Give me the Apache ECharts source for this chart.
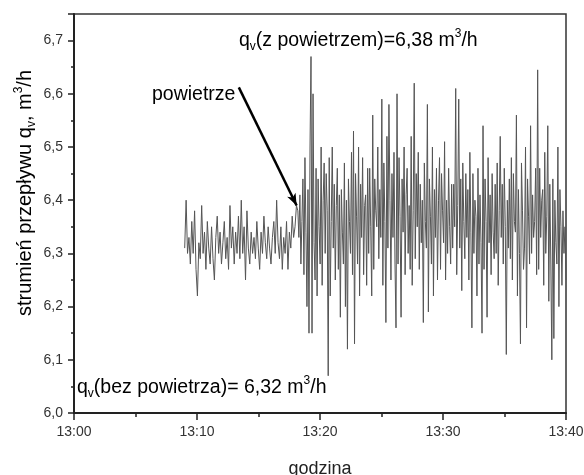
<!DOCTYPE html>
<html>
<head>
<meta charset="utf-8">
<script src="https://cdn.jsdelivr.net/npm/echarts@6/dist/echarts.min.js"></script>
<style>html,body{margin:0;padding:0;background:#fff}#c{width:584px;height:475px}</style>
</head>
<body>
<div id="c"></div>
<script>
// Time axis: minutes after 13:00
var xTicks = ['13:00', '13:10', '13:20', '13:30', '13:40'];
var yTicks = ['6,0', '6,1', '6,2', '6,3', '6,4', '6,5', '6,6', '6,7'];
var noAirStart = 9.0;    // first sample ~13:09
var airStart = 18.2;     // air introduced ~13:18
var endMinute = 40.0;    // last sample 13:40

// Flow without air (13:09 - ~13:18)
var flowNoAir = [
  6.31, 6.40, 6.30, 6.33, 6.28, 6.36, 6.30, 6.38, 6.27, 6.22,
  6.32, 6.29, 6.39, 6.30, 6.34, 6.27, 6.36, 6.31, 6.28, 6.35,
  6.29, 6.25, 6.33, 6.37, 6.30, 6.34, 6.28, 6.32, 6.36, 6.29,
  6.33, 6.27, 6.39, 6.31, 6.35, 6.28, 6.34, 6.30, 6.37, 6.29,
  6.40, 6.30, 6.35, 6.25, 6.38, 6.31, 6.28, 6.34, 6.30, 6.33,
  6.29, 6.36, 6.31, 6.27, 6.34, 6.30, 6.37, 6.32, 6.29, 6.35,
  6.31, 6.28, 6.33, 6.36, 6.30, 6.40, 6.32, 6.29, 6.35, 6.27,
  6.33, 6.30, 6.36, 6.27, 6.34, 6.31, 6.37, 6.33, 6.35, 6.39
];
// Flow with air (~13:18 - 13:40)
var flowWithAir = [
  6.38, 6.33, 6.41, 6.28, 6.36, 6.44, 6.26, 6.48, 6.34, 6.20, 6.42, 6.15, 6.50, 6.67,
  6.15, 6.60, 6.32, 6.25, 6.46, 6.22, 6.44, 6.35, 6.28, 6.50, 6.24, 6.40, 6.47, 6.30,
  6.45, 6.38, 6.07, 6.48, 6.22, 6.36, 6.50, 6.31, 6.43, 6.25, 6.39, 6.46, 6.27, 6.41,
  6.18, 6.42, 6.34, 6.28, 6.47, 6.20, 6.40, 6.12, 6.44, 6.36, 6.30, 6.49, 6.26, 6.53,
  6.13, 6.45, 6.37, 6.28, 6.50, 6.22, 6.43, 6.33, 6.48, 6.26, 6.39, 6.41, 6.24, 6.46,
  6.30, 6.46, 6.35, 6.22, 6.56, 6.27, 6.44, 6.38, 6.35, 6.50, 6.29, 6.42, 6.33, 6.59,
  6.24, 6.47, 6.36, 6.17, 6.52, 6.31, 6.58, 6.40, 6.25, 6.45, 6.33, 6.49, 6.28, 6.16,
  6.60, 6.28, 6.48, 6.37, 6.18, 6.44, 6.34, 6.50, 6.26, 6.41, 6.46, 6.30, 6.39, 6.27,
  6.52, 6.24, 6.38, 6.62, 6.29, 6.45, 6.35, 6.49, 6.27, 6.43, 6.32, 6.40, 6.17, 6.47,
  6.36, 6.31, 6.58, 6.19, 6.44, 6.37, 6.28, 6.50, 6.22, 6.42, 6.33, 6.46, 6.25, 6.40,
  6.48, 6.27, 6.45, 6.38, 6.32, 6.51, 6.25, 6.40, 6.30, 6.46, 6.35, 6.28, 6.43, 6.31,
  6.43, 6.35, 6.61, 6.26, 6.39, 6.59, 6.31, 6.44, 6.23, 6.47, 6.36, 6.29, 6.45, 6.33,
  6.42, 6.25, 6.49, 6.34, 6.16, 6.45, 6.30, 6.40, 6.37, 6.22, 6.46, 6.28, 6.41, 6.32,
  6.15, 6.54, 6.27, 6.44, 6.36, 6.18, 6.48, 6.32, 6.41, 6.26, 6.45, 6.34, 6.29, 6.43,
  6.30, 6.47, 6.24, 6.38, 6.52, 6.33, 6.43, 6.28, 6.46, 6.35, 6.11, 6.40, 6.31, 6.44,
  6.29, 6.48, 6.25, 6.45, 6.36, 6.34, 6.56, 6.22, 6.42, 6.30, 6.13, 6.47, 6.38, 6.27,
  6.31, 6.50, 6.16, 6.44, 6.37, 6.28, 6.54, 6.30, 6.41, 6.33, 6.36, 6.46, 6.26, 6.645,
  6.27, 6.46, 6.33, 6.40, 6.42, 6.24, 6.49, 6.30, 6.37, 6.54, 6.21, 6.43, 6.28, 6.10,
  6.44, 6.14, 6.40, 6.32, 6.28, 6.50, 6.20, 6.42, 6.35, 6.24, 6.38, 6.30, 6.35, 6.25
];
// Arrow annotation (minute, value)
var arrowFrom = [13.4, 6.612];
var arrowTo = [18.1, 6.39];

function timed(values, t0, t1, includeLast) {
  var n = values.length;
  var dt = (t1 - t0) / (includeLast ? n - 1 : n);
  return values.map(function (v, i) { return [t0 + i * dt, v]; });
}
var seriesData = timed(flowNoAir, noAirStart, airStart, false)
  .concat(timed(flowWithAir, airStart, endMinute, true));

var chart = echarts.init(document.getElementById('c'), null, {renderer: 'canvas'});
var FONT = '"Liberation Sans", Arial, sans-serif';
function mkRich(size) {
  var s = Math.round(size * 0.6);
  return {
    n: {fontSize: size, fontFamily: FONT, color: '#111', lineHeight: size + 5},
    sub: {fontSize: s, fontFamily: FONT, color: '#111', lineHeight: size + 5, verticalAlign: 'bottom'},
    sup: {fontSize: s, fontFamily: FONT, color: '#111', lineHeight: size + 5, verticalAlign: 'top'}
  };
}
var rich = mkRich(19.5);
var option = {
  animation: false,
  backgroundColor: '#fff',
  grid: {left: 74, right: 18, top: 14, bottom: 62, show: true, borderColor: '#333', borderWidth: 1.5,
    containLabel: false, outerBoundsMode: 'none'},
  xAxis: {
    type: 'value', min: 0, max: 40, interval: 10,
    name: 'godzina', nameLocation: 'middle', nameGap: 47,
    nameTextStyle: {fontSize: 18, fontFamily: FONT, color: '#222'},
    axisLine: {show: true, onZero: false, lineStyle: {color: '#222', width: 2}},
    axisTick: {show: true, inside: false, length: 7, lineStyle: {color: '#222', width: 1.5}},
    minorTick: {show: true, splitNumber: 2, length: 4, lineStyle: {color: '#222', width: 1.5}},
    splitLine: {show: false},
    axisLabel: {fontSize: 14, fontFamily: FONT, color: '#333', margin: 12,
      formatter: function (v) { return xTicks[Math.round(v / 10)] || ''; }}
  },
  yAxis: {
    type: 'value', min: 6.0, max: 6.75, interval: 0.1,
    axisLine: {show: true, onZero: false, lineStyle: {color: '#222', width: 2}},
    axisTick: {show: true, inside: false, length: 6, lineStyle: {color: '#222', width: 1.5}},
    minorTick: {show: true, splitNumber: 2, length: 3, lineStyle: {color: '#222', width: 1.5}},
    splitLine: {show: false},
    axisLabel: {fontSize: 14, fontFamily: FONT, color: '#333', margin: 11, showMaxLabel: false,
      formatter: function (v) { var k = Math.round((v - 6.0) * 10); return (Math.abs(v - (6 + k / 10)) < 1e-6) ? (yTicks[k] || '') : ''; }}
  },
  series: [{
    type: 'line', data: seriesData, showSymbol: false, symbol: 'none',
    lineStyle: {color: '#555', width: 1},
    markLine: {
      silent: true, symbol: ['none', 'arrow'], symbolSize: [7, 12],
      label: {show: false},
      lineStyle: {color: '#000', width: 2.5, type: 'solid'},
      data: [[{coord: arrowFrom}, {coord: arrowTo}]]
    }
  }],
  graphic: [
    {type: 'text', x: 25, y: 193, rotation: Math.PI / 2,
      style: {text: '{n|strumień przepływu q}{sub|v}{n|, m}{sup|3}{n|/h}', rich: mkRich(20), align: 'center', verticalAlign: 'middle'}},
    {type: 'text', left: 239, top: 28, style: {text: '{n|q}{sub|v}{n|(z powietrzem)=6,38 m}{sup|3}{n|/h}', rich: rich}},
    {type: 'text', left: 152, top: 85, style: {text: '{n|powietrze}', rich: rich}},
    {type: 'text', left: 77, top: 375, style: {text: '{n|q}{sub|v}{n|(bez powietrza)= 6,32 m}{sup|3}{n|/h}', rich: rich}}
  ]
};
chart.setOption(option);
</script>
</body>
</html>
